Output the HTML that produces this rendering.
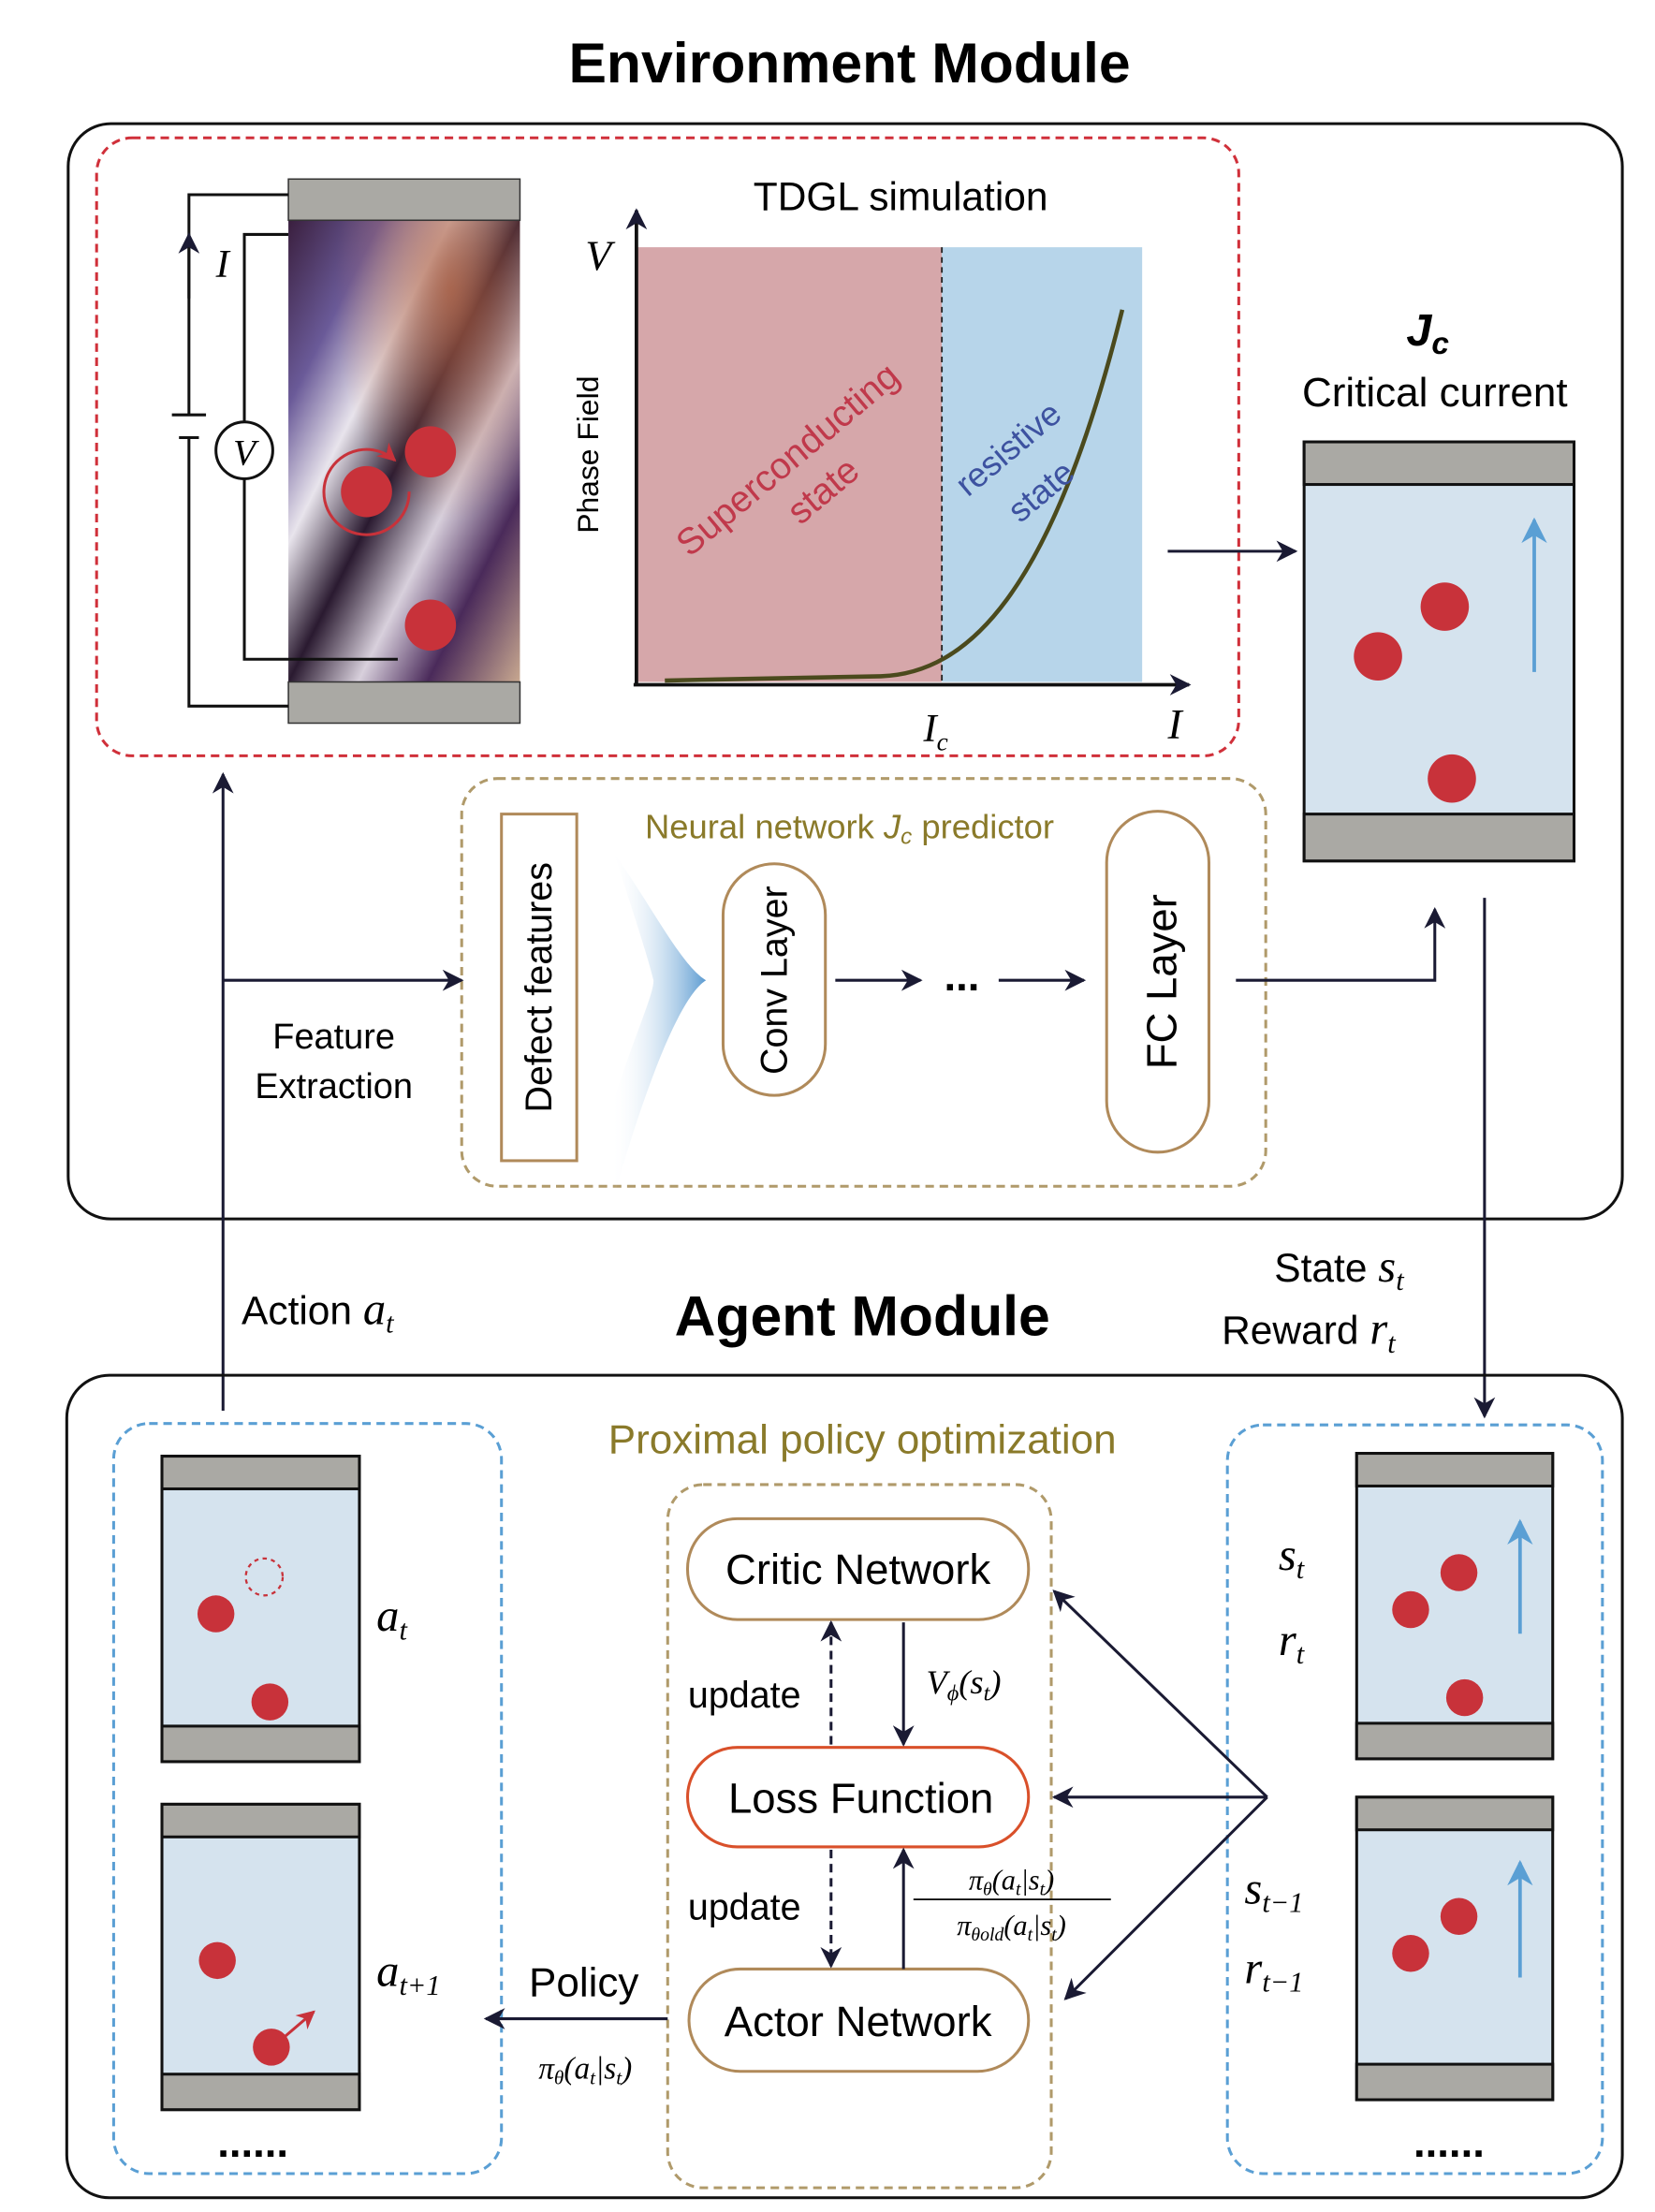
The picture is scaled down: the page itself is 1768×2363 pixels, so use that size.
<!DOCTYPE html>
<html><head><meta charset="utf-8"><style>
html,body{margin:0;padding:0;background:#fff}
svg{display:block}
text{font-family:"Liberation Sans",sans-serif}
.s{font-family:"Liberation Serif",serif;font-style:italic}
</style></head><body>
<svg width="1768" height="2363" viewBox="0 0 1165 1557" xmlns="http://www.w3.org/2000/svg">
<defs>
<marker id="a" viewBox="0 0 10 10" refX="9" refY="5" markerWidth="15" markerHeight="15" orient="auto-start-reverse" markerUnits="userSpaceOnUse"><path d="M0,0 L10,5 L0,10 L3,5z" fill="#1a1a33"/></marker>
<marker id="ab" viewBox="0 0 10 10" refX="9" refY="5" markerWidth="18" markerHeight="18" orient="auto" markerUnits="userSpaceOnUse"><path d="M0,0 L10,5 L0,10 L3,5z" fill="#5a9fd4"/></marker>
<marker id="ar" viewBox="0 0 10 10" refX="9" refY="5" markerWidth="13" markerHeight="13" orient="auto" markerUnits="userSpaceOnUse"><path d="M0,0 L10,5 L0,10 L3,5z" fill="#c8323a"/></marker>
<linearGradient id="pf" x1="0" y1="0" x2="1" y2="1">
<stop offset="0" stop-color="#3a1f3e"/><stop offset="0.2" stop-color="#6a5a98"/><stop offset="0.35" stop-color="#e8e4ec"/><stop offset="0.5" stop-color="#2a1a30"/><stop offset="0.65" stop-color="#d8d0dc"/><stop offset="0.8" stop-color="#4a2a5a"/><stop offset="1" stop-color="#c8a890"/></linearGradient>
<radialGradient id="pf2" cx="0.7" cy="0.15" r="0.5"><stop offset="0" stop-color="#b06040" stop-opacity="0.8"/><stop offset="1" stop-color="#b06040" stop-opacity="0"/></radialGradient>
<linearGradient id="fan" x1="0" y1="0" x2="1" y2="0"><stop offset="0" stop-color="#fff" stop-opacity="0"/><stop offset="1" stop-color="#4a90cc"/></linearGradient>
</defs>

<text x="598" y="58" font-size="40" font-weight="bold" text-anchor="middle">Environment Module</text>
<rect x="48" y="87" width="1094" height="771" rx="30" fill="none" stroke="#111" stroke-width="2"/>
<rect x="68" y="97" width="804" height="435" rx="25" fill="none" stroke="#d0303a" stroke-width="2" stroke-dasharray="6,4"/>

<rect x="203" y="155" width="163" height="325" fill="url(#pf)"/>
<rect x="203" y="155" width="163" height="325" fill="url(#pf2)"/>
<rect x="203" y="126" width="163" height="29" fill="#aaa9a4" stroke="#333" stroke-width="1"/>
<rect x="203" y="480" width="163" height="29" fill="#aaa9a4" stroke="#333" stroke-width="1"/>
<path d="M203,137 H133 V292 M133,308 V497 H203" fill="none" stroke="#111" stroke-width="2"/>
<path d="M121,292 H145 M126,308 H140" stroke="#111" stroke-width="2"/>
<path d="M133,210 V165" stroke="#111" stroke-width="2" marker-end="url(#a)"/>
<path d="M203,165 H172 V297 M172,337 V464 H280" fill="none" stroke="#111" stroke-width="2"/>
<circle cx="172" cy="317" r="20" fill="#fff" stroke="#111" stroke-width="2"/>
<text x="172" y="327" class="s" font-size="26" text-anchor="middle">V</text>
<text x="152" y="195" class="s" font-size="28">I</text>
<circle cx="303" cy="318" r="18" fill="#c8323a"/>
<circle cx="258" cy="346" r="18" fill="#c8323a"/>
<path d="M288,346 A30,30 0 1 1 278,324" fill="none" stroke="#c8323a" stroke-width="2" marker-end="url(#ar)"/>
<circle cx="303" cy="440" r="18" fill="#c8323a"/>

<rect x="448" y="174" width="215" height="306" fill="#d6a7aa"/>
<rect x="663" y="174" width="141" height="306" fill="#b7d5ea"/>
<line x1="663" y1="174" x2="663" y2="480" stroke="#222" stroke-width="1.2" stroke-dasharray="4,3"/>
<path d="M448,482 V148" stroke="#111" stroke-width="2.5" marker-end="url(#a)"/>
<path d="M446,482 H837" stroke="#111" stroke-width="2.5" marker-end="url(#a)"/>
<path d="M468,479 L620,476 C680,474 740,420 790,218" fill="none" stroke="#4b4a1d" stroke-width="3"/>
<text x="634" y="148" font-size="28" text-anchor="middle">TDGL simulation</text>
<text x="412" y="190" class="s" font-size="30">V</text>
<text transform="translate(421,320) rotate(-90)" font-size="21" text-anchor="middle">Phase Field</text>
<text transform="translate(560,330) rotate(-40)" font-size="26" fill="#c0394b" text-anchor="middle">Superconducting</text>
<text transform="translate(585,352) rotate(-40)" font-size="26" fill="#c0394b" text-anchor="middle">state</text>
<text transform="translate(715,322) rotate(-40)" font-size="24" fill="#3d52a0" text-anchor="middle">resistive</text>
<text transform="translate(738,352) rotate(-40)" font-size="24" fill="#3d52a0" text-anchor="middle">state</text>
<text x="650" y="522" class="s" font-size="28">I<tspan font-size="18" dy="6">c</tspan></text>
<text x="822" y="520" class="s" font-size="30">I</text>

<path d="M822,388 H912" stroke="#1a1a33" stroke-width="2" marker-end="url(#a)"/>
<text x="1005" y="243" font-size="32" font-weight="bold" font-style="italic" text-anchor="middle">J<tspan font-size="22" dy="6">c</tspan></text>
<text x="1010" y="286" font-size="29" text-anchor="middle">Critical current</text>
<rect x="918" y="311" width="190" height="295" fill="#d5e3ee" stroke="#111" stroke-width="2"/>
<rect x="918" y="311" width="190" height="30" fill="#aaa9a4" stroke="#111" stroke-width="2"/>
<rect x="918" y="573" width="190" height="33" fill="#aaa9a4" stroke="#111" stroke-width="2"/>
<circle cx="970" cy="462" r="17" fill="#c8323a"/>
<circle cx="1017" cy="427" r="17" fill="#c8323a"/>
<circle cx="1022" cy="548" r="17" fill="#c8323a"/>
<path d="M1080,473 V366" stroke="#5a9fd4" stroke-width="2.5" marker-end="url(#ab)"/>

<rect x="325" y="548" width="566" height="287" rx="25" fill="none" stroke="#b09a6a" stroke-width="2" stroke-dasharray="6,4"/>
<text x="598" y="590" font-size="24" fill="#8a7a2a" text-anchor="middle">Neural network <tspan font-style="italic">J<tspan font-size="16" dy="4">c</tspan></tspan><tspan dy="-4"> predictor</tspan></text>
<rect x="353" y="573" width="53" height="244" fill="#fff" stroke="#b08a5a" stroke-width="2"/>
<text transform="translate(388,695) rotate(-90)" font-size="26" text-anchor="middle">Defect features</text>
<path d="M432,600 C460,640 480,680 497,690 C480,700 455,760 430,850 L430,780 C450,720 460,700 460,690 C455,670 445,640 432,600z" fill="url(#fan)" opacity="0.9"/>
<rect x="509" y="608" width="72" height="163" rx="36" fill="#fff" stroke="#b08a5a" stroke-width="2"/>
<text transform="translate(554,690) rotate(-90)" font-size="26" text-anchor="middle">Conv Layer</text>
<path d="M588,690 H648" stroke="#1a1a33" stroke-width="2" marker-end="url(#a)"/>
<text x="677" y="697" font-size="30" font-weight="bold" text-anchor="middle">...</text>
<path d="M703,690 H763" stroke="#1a1a33" stroke-width="2" marker-end="url(#a)"/>
<rect x="779" y="571" width="72" height="240" rx="36" fill="#fff" stroke="#b08a5a" stroke-width="2"/>
<text transform="translate(828,691) rotate(-90)" font-size="30" text-anchor="middle">FC Layer</text>
<path d="M870,690 H1010 V640" fill="none" stroke="#1a1a33" stroke-width="2" marker-end="url(#a)"/>

<path d="M157,993 V545" stroke="#1a1a33" stroke-width="2" marker-end="url(#a)"/>
<path d="M157,690 H325" stroke="#1a1a33" stroke-width="2" marker-end="url(#a)"/>
<text x="235" y="738" font-size="25" text-anchor="middle">Feature</text>
<text x="235" y="773" font-size="25" text-anchor="middle">Extraction</text>
<path d="M1045,632 V997" stroke="#1a1a33" stroke-width="2" marker-end="url(#a)"/>
<text x="897" y="902" font-size="28">State <tspan class="s" font-size="32">s<tspan font-size="20" dy="6">t</tspan></tspan></text>
<text x="860" y="946" font-size="28">Reward <tspan class="s" font-size="32">r<tspan font-size="20" dy="6">t</tspan></tspan></text>
<text x="170" y="932" font-size="28">Action <tspan class="s" font-size="32">a<tspan font-size="20" dy="6">t</tspan></tspan></text>
<text x="607" y="940" font-size="40" font-weight="bold" text-anchor="middle">Agent Module</text>

<rect x="47" y="968" width="1095" height="579" rx="30" fill="none" stroke="#111" stroke-width="2"/>
<rect x="80" y="1002" width="273" height="528" rx="25" fill="none" stroke="#5a9fd4" stroke-width="2" stroke-dasharray="6,4"/>
<g stroke="#111" stroke-width="2">
<rect x="114" y="1025" width="139" height="215" fill="#d5e3ee"/>
<rect x="114" y="1025" width="139" height="23" fill="#aaa9a4"/>
<rect x="114" y="1215" width="139" height="25" fill="#aaa9a4"/>
<rect x="114" y="1270" width="139" height="215" fill="#d5e3ee"/>
<rect x="114" y="1270" width="139" height="23" fill="#aaa9a4"/>
<rect x="114" y="1460" width="139" height="25" fill="#aaa9a4"/>
<rect x="955" y="1023" width="138" height="215" fill="#d5e3ee"/>
<rect x="955" y="1023" width="138" height="23" fill="#aaa9a4"/>
<rect x="955" y="1213" width="138" height="25" fill="#aaa9a4"/>
<rect x="955" y="1265" width="138" height="213" fill="#d5e3ee"/>
<rect x="955" y="1265" width="138" height="23" fill="#aaa9a4"/>
<rect x="955" y="1453" width="138" height="25" fill="#aaa9a4"/>
</g>
<circle cx="152" cy="1136" r="13" fill="#c8323a"/>
<circle cx="190" cy="1198" r="13" fill="#c8323a"/>
<circle cx="186" cy="1110" r="13" fill="none" stroke="#c8323a" stroke-width="1.5" stroke-dasharray="3,3"/>
<circle cx="153" cy="1380" r="13" fill="#c8323a"/>
<circle cx="191" cy="1441" r="13" fill="#c8323a"/>
<path d="M200,1434 L221,1416" stroke="#c8323a" stroke-width="2" marker-end="url(#ar)"/>
<text x="265" y="1148" class="s" font-size="32">a<tspan font-size="20" dy="6">t</tspan></text>
<text x="265" y="1398" class="s" font-size="32">a<tspan font-size="20" dy="6">t+1</tspan></text>
<text x="178" y="1518" font-size="30" font-weight="bold" text-anchor="middle">......</text>

<circle cx="993" cy="1133" r="13" fill="#c8323a"/>
<circle cx="1027" cy="1107" r="13" fill="#c8323a"/>
<circle cx="1031" cy="1195" r="13" fill="#c8323a"/>
<path d="M1070,1150 V1071" stroke="#5a9fd4" stroke-width="2.5" marker-end="url(#ab)"/>
<circle cx="993" cy="1375" r="13" fill="#c8323a"/>
<circle cx="1027" cy="1349" r="13" fill="#c8323a"/>
<path d="M1070,1392 V1311" stroke="#5a9fd4" stroke-width="2.5" marker-end="url(#ab)"/>
<rect x="864" y="1003" width="264" height="527" rx="25" fill="none" stroke="#5a9fd4" stroke-width="2" stroke-dasharray="6,4"/>
<text x="900" y="1105" class="s" font-size="32">s<tspan font-size="20" dy="6">t</tspan></text>
<text x="900" y="1165" class="s" font-size="32">r<tspan font-size="20" dy="6">t</tspan></text>
<text x="876" y="1340" class="s" font-size="32">s<tspan font-size="20" dy="6">t−1</tspan></text>
<text x="876" y="1396" class="s" font-size="32">r<tspan font-size="20" dy="6">t−1</tspan></text>
<text x="1020" y="1518" font-size="30" font-weight="bold" text-anchor="middle">......</text>

<text x="607" y="1023" font-size="29" fill="#8a7a2a" text-anchor="middle">Proximal policy optimization</text>
<rect x="470" y="1045" width="270" height="495" rx="25" fill="none" stroke="#b09a6a" stroke-width="2" stroke-dasharray="6,4"/>
<rect x="484" y="1069" width="240" height="71" rx="35" fill="#fff" stroke="#b08a5a" stroke-width="2"/>
<text x="604" y="1115" font-size="30" text-anchor="middle">Critic Network</text>
<rect x="484" y="1230" width="240" height="70" rx="35" fill="#fff" stroke="#d9502a" stroke-width="2"/>
<text x="606" y="1276" font-size="30" text-anchor="middle">Loss Function</text>
<rect x="485" y="1386" width="239" height="72" rx="36" fill="#fff" stroke="#b08a5a" stroke-width="2"/>
<text x="604" y="1433" font-size="30" text-anchor="middle">Actor Network</text>
<path d="M585,1228 V1142" stroke="#1a1a33" stroke-width="2" stroke-dasharray="6,4" marker-end="url(#a)"/>
<path d="M636,1142 V1228" stroke="#1a1a33" stroke-width="2" marker-end="url(#a)"/>
<path d="M585,1302 V1384" stroke="#1a1a33" stroke-width="2" stroke-dasharray="6,4" marker-end="url(#a)"/>
<path d="M636,1386 V1302" stroke="#1a1a33" stroke-width="2" marker-end="url(#a)"/>
<text x="524" y="1202" font-size="26" text-anchor="middle">update</text>
<text x="524" y="1351" font-size="26" text-anchor="middle">update</text>
<text x="652" y="1192" class="s" font-size="24">V<tspan font-size="16" dy="5">ϕ</tspan><tspan dy="-5">(s</tspan><tspan font-size="16" dy="5">t</tspan><tspan dy="-5">)</tspan></text>
<text x="712" y="1330" class="s" font-size="20" text-anchor="middle">π<tspan font-size="13" dy="4">θ</tspan><tspan dy="-4">(a</tspan><tspan font-size="13" dy="4">t</tspan><tspan dy="-4">|s</tspan><tspan font-size="13" dy="4">t</tspan><tspan dy="-4">)</tspan></text>
<line x1="643" y1="1337" x2="782" y2="1337" stroke="#111" stroke-width="1.2"/>
<text x="712" y="1362" class="s" font-size="20" text-anchor="middle">π<tspan font-size="13" dy="4">θold</tspan><tspan dy="-4">(a</tspan><tspan font-size="13" dy="4">t</tspan><tspan dy="-4">|s</tspan><tspan font-size="13" dy="4">t</tspan><tspan dy="-4">)</tspan></text>
<path d="M470,1421 H342" stroke="#1a1a33" stroke-width="2" marker-end="url(#a)"/>
<text x="411" y="1405" font-size="29" text-anchor="middle">Policy</text>
<text x="412" y="1463" class="s" font-size="22" text-anchor="middle">π<tspan font-size="14" dy="4">θ</tspan><tspan dy="-4">(a</tspan><tspan font-size="14" dy="4">t</tspan><tspan dy="-4">|s</tspan><tspan font-size="14" dy="4">t</tspan><tspan dy="-4">)</tspan></text>
<path d="M892,1265 L742,1120" stroke="#1a1a33" stroke-width="2" marker-end="url(#a)"/>
<path d="M892,1265 H742" stroke="#1a1a33" stroke-width="2" marker-end="url(#a)"/>
<path d="M892,1265 L750,1407" stroke="#1a1a33" stroke-width="2" marker-end="url(#a)"/>
</svg>
</body></html>
